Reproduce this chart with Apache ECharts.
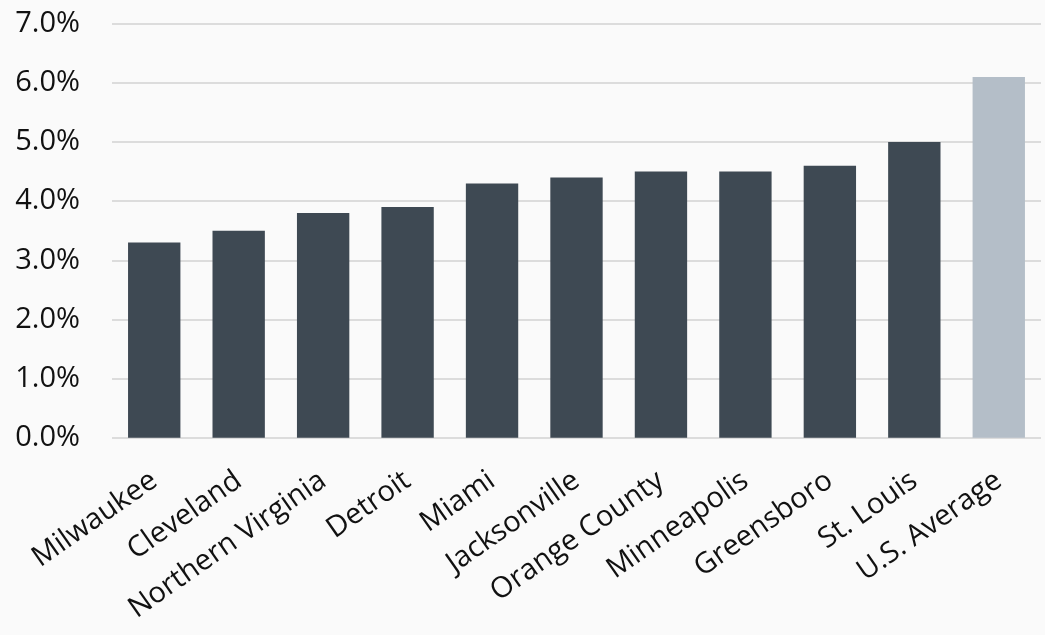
<!DOCTYPE html>
<html>
<head>
<meta charset="utf-8">
<script src="https://cdn.jsdelivr.net/npm/echarts@6/dist/echarts.min.js"></script>
<style>
  html, body { margin: 0; padding: 0; background: #fafafa; }
  #chart { width: 1045px; height: 635px; }
</style>
</head>
<body>
<div id="chart"></div>
<script>
// Metro areas, ordered by rate, with the national figure last
const categories = ['Milwaukee', 'Cleveland', 'Northern Virginia', 'Detroit', 'Miami',
  'Jacksonville', 'Orange County', 'Minneapolis', 'Greensboro', 'St. Louis', 'U.S. Average'];
// Rate in percent
const values = [3.3, 3.5, 3.8, 3.9, 4.3, 4.4, 4.5, 4.5, 4.6, 5.0, 6.1];
const highlightCategory = 'U.S. Average';

const DARK = '#3e4953';
const LIGHT = '#b4bec8';
const FONT = '"Open Sans", "Noto Sans", sans-serif';

const chart = echarts.init(document.getElementById('chart'), null, { renderer: 'canvas' });

chart.setOption({
  backgroundColor: '#fafafa',
  animation: false,
  grid: { left: 112, right: 4, top: 23.7, bottom: 197.3, containLabel: false },
  xAxis: {
    type: 'category',
    data: categories,
    axisLine: { show: false },
    axisTick: { show: false },
    axisLabel: {
      interval: 0,
      rotate: 35,
      margin: 40,
      color: '#111',
      fontFamily: FONT,
      fontSize: 29
    }
  },
  yAxis: {
    type: 'value',
    min: 0,
    max: 7,
    interval: 1,
    axisLine: { show: false },
    axisTick: { show: false },
    splitLine: { lineStyle: { color: '#dcdcdc', width: 2 } },
    axisLabel: {
      margin: 32,
      color: '#111',
      fontFamily: FONT,
      fontSize: 29,
      formatter: v => v.toFixed(1) + '%'
    }
  },
  series: [{
    type: 'bar',
    barWidth: '62%',
    data: values.map((v, i) => ({
      value: v,
      itemStyle: { color: categories[i] === highlightCategory ? LIGHT : DARK }
    }))
  }]
});
</script>
</body>
</html>
